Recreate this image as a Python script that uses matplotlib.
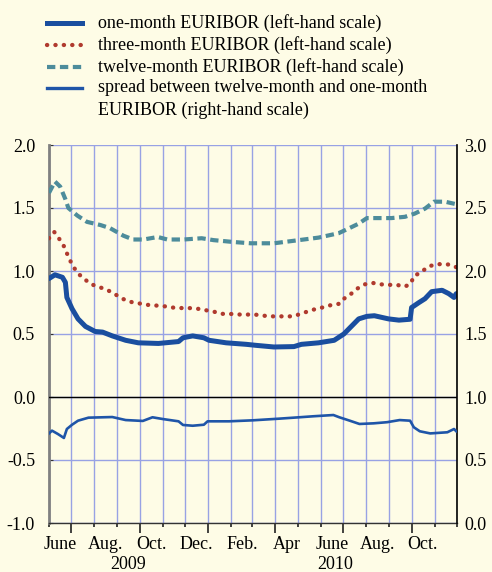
import pandas as pd
import matplotlib
matplotlib.use('Agg')
import matplotlib.pyplot as plt
import matplotlib.dates as mdates
from matplotlib.lines import Line2D

plt.rcParams['font.family'] = ['Liberation Serif', 'DejaVu Serif']
plt.rcParams['font.size'] = 13

# one-month EURIBOR (left-hand scale)
one_dates = ['2009-06-01', '2009-06-09', '2009-06-19', '2009-06-23', '2009-06-25', '2009-07-02',
             '2009-07-10', '2009-07-20', '2009-08-02', '2009-08-12', '2009-08-25', '2009-09-12',
             '2009-09-29', '2009-10-26', '2009-11-22', '2009-11-28', '2009-12-11', '2009-12-26',
             '2010-01-02', '2010-01-25', '2010-02-21', '2010-03-06', '2010-03-30', '2010-04-26',
             '2010-05-06', '2010-05-29', '2010-06-19', '2010-07-02', '2010-07-12', '2010-07-22',
             '2010-08-02', '2010-08-12', '2010-08-31', '2010-09-14', '2010-09-29', '2010-10-01',
             '2010-10-11', '2010-10-19', '2010-10-28', '2010-11-11', '2010-11-20', '2010-11-27',
             '2010-11-30']
one_vals = [0.94, 0.97, 0.95, 0.91, 0.79, 0.70,
            0.62, 0.56, 0.52, 0.515, 0.485, 0.45,
            0.43, 0.425, 0.44, 0.47, 0.485, 0.47,
            0.45, 0.43, 0.418, 0.41, 0.397, 0.40,
            0.418, 0.43, 0.45, 0.50, 0.56, 0.62,
            0.64, 0.645, 0.62, 0.61, 0.617, 0.71,
            0.75, 0.78, 0.836, 0.847, 0.82, 0.79,
            0.82]

# three-month EURIBOR (left-hand scale)
three_dates = ['2009-06-01', '2009-06-08', '2009-06-13', '2009-06-20', '2009-06-28', '2009-07-03',
               '2009-07-10', '2009-07-18', '2009-07-26', '2009-08-05', '2009-08-14', '2009-08-25',
               '2009-09-02', '2009-09-12', '2009-09-22', '2009-10-03', '2009-10-13', '2009-10-25',
               '2009-11-03', '2009-11-14', '2009-11-25', '2009-12-06', '2009-12-18', '2009-12-27',
               '2010-01-07', '2010-01-18', '2010-01-29', '2010-02-08', '2010-02-18', '2010-03-02',
               '2010-03-13', '2010-03-24', '2010-04-03', '2010-04-14', '2010-04-25', '2010-05-05',
               '2010-05-15', '2010-05-26', '2010-06-06', '2010-06-15', '2010-06-26', '2010-07-04',
               '2010-07-12', '2010-07-20', '2010-07-30', '2010-08-10', '2010-08-21', '2010-08-31',
               '2010-09-11', '2010-09-22', '2010-09-30', '2010-10-04', '2010-10-14', '2010-10-22',
               '2010-10-31', '2010-11-11', '2010-11-22', '2010-11-30']
three_vals = [1.26, 1.31, 1.27, 1.21, 1.10, 1.04,
              0.98, 0.94, 0.90, 0.876, 0.86, 0.83,
              0.80, 0.767, 0.75, 0.74, 0.73, 0.725,
              0.72, 0.71, 0.706, 0.706, 0.70, 0.69,
              0.68, 0.66, 0.66, 0.656, 0.653, 0.656,
              0.648, 0.64, 0.64, 0.64, 0.64, 0.66,
              0.68, 0.70, 0.714, 0.73, 0.74, 0.79,
              0.82, 0.86, 0.894, 0.905, 0.894, 0.89,
              0.89, 0.876, 0.90, 0.96, 0.99, 1.03,
              1.05, 1.056, 1.05, 1.03]

# twelve-month EURIBOR (left-hand scale)
twelve_dates = ['2009-06-01', '2009-06-09', '2009-06-16', '2009-06-23', '2009-06-27', '2009-07-09',
                '2009-07-22', '2009-08-09', '2009-08-22', '2009-09-09', '2009-09-22', '2009-10-06',
                '2009-10-25', '2009-11-07', '2009-11-29', '2009-12-23', '2010-01-08', '2010-02-04',
                '2010-02-27', '2010-03-30', '2010-04-26', '2010-05-29', '2010-06-25', '2010-07-08',
                '2010-07-22', '2010-08-02', '2010-08-12', '2010-09-04', '2010-09-22', '2010-10-05',
                '2010-10-19', '2010-10-31', '2010-11-15', '2010-11-30']
twelve_vals = [1.62, 1.71, 1.67, 1.57, 1.50, 1.44,
               1.39, 1.365, 1.34, 1.28, 1.25, 1.25,
               1.27, 1.25, 1.25, 1.26, 1.245, 1.23,
               1.22, 1.22, 1.24, 1.265, 1.30, 1.336,
               1.376, 1.42, 1.42, 1.42, 1.43, 1.455,
               1.495, 1.55, 1.55, 1.53]

# spread between twelve-month and one-month EURIBOR (right-hand scale)
spread_dates = ['2009-06-01', '2009-06-05', '2009-06-13', '2009-06-21', '2009-06-25', '2009-07-02',
                '2009-07-10', '2009-07-24', '2009-08-06', '2009-08-25', '2009-09-12', '2009-10-05',
                '2009-10-18', '2009-11-01', '2009-11-22', '2009-11-28', '2009-12-11', '2009-12-26',
                '2009-12-31', '2010-01-29', '2010-03-02', '2010-04-06', '2010-05-03', '2010-05-22',
                '2010-06-18', '2010-06-26', '2010-07-10', '2010-07-23', '2010-08-11', '2010-08-29',
                '2010-09-15', '2010-09-29', '2010-10-04', '2010-10-12', '2010-10-26', '2010-11-18',
                '2010-11-27', '2010-11-30']
spread_vals = [0.711, 0.733, 0.706, 0.675, 0.746, 0.78,
               0.812, 0.836, 0.838, 0.841, 0.817, 0.81,
               0.839, 0.825, 0.807, 0.778, 0.772, 0.78,
               0.807, 0.807, 0.815, 0.828, 0.839, 0.847,
               0.857, 0.839, 0.812, 0.786, 0.791, 0.80,
               0.817, 0.812, 0.76, 0.728, 0.711, 0.72,
               0.746, 0.728]

month_labels = ['June', 'Aug.', 'Oct.', 'Dec.', 'Feb.', 'Apr', 'June', 'Aug.', 'Oct.']
label_months = pd.date_range('2009-06-01', '2010-10-01', freq='2MS')
year_labels = ['2009', '2010']
year_pos = ['2009-09-15', '2010-06-20']

bg = '#fefce6'
grid_c = '#98a2e4'
dots = (0, (0.05, 1.9))
dashes = (0, (2.0, 1.1))

W, H = 492, 572
fig = plt.figure(figsize=(W / 100, H / 100), dpi=100, facecolor=bg)
ax = fig.add_axes([49 / W, 1 - 523 / H, 408 / W, 378 / H])
ax.set_facecolor(bg)
ax2 = ax.twinx()

ax.plot(pd.to_datetime(twelve_dates), twelve_vals, color='#4d8c9b', lw=3.0,
        linestyle=dashes, zorder=4)
ax.plot(pd.to_datetime(three_dates), three_vals, color='#b03a2e', lw=3.1,
        linestyle=dots, dash_capstyle='round', zorder=4)
ax.plot(pd.to_datetime(one_dates), one_vals, color='#1a4e9f', lw=3.6,
        solid_capstyle='round', zorder=5)
ax2.plot(pd.to_datetime(spread_dates), spread_vals, color='#1f55a8', lw=1.9, zorder=5)

start, end = pd.Timestamp('2009-06-01'), pd.Timestamp('2010-12-01')
ax.set_xlim(start, end)
ax.set_ylim(-1.0, 2.0)
ax2.set_ylim(0.0, 3.0)

ax.set_yticks([-1.0, -0.5, 0.0, 0.5, 1.0, 1.5, 2.0])
ax.set_yticklabels(['-1.0', '-0.5', '0.0', '0.5', '1.0', '1.5', '2.0'])
ax2.set_yticks([0.0, 0.5, 1.0, 1.5, 2.0, 2.5, 3.0])
ax2.set_yticklabels(['0.0', '0.5', '1.0', '1.5', '2.0', '2.5', '3.0'])
ax.tick_params(axis='y', length=3, direction='in', pad=10, labelsize=13, color='#333333')
ax2.tick_params(axis='y', length=0, pad=5, labelsize=13)

ax.xaxis.set_major_locator(mdates.MonthLocator(bymonth=[1, 4, 7, 10]))
ax.xaxis.set_minor_locator(mdates.MonthLocator())
ax.xaxis.set_major_formatter(plt.NullFormatter())
ax.tick_params(axis='x', which='major', length=7, width=1.2, direction='out', color='#222222')
ax.tick_params(axis='x', which='minor', length=3, width=1.2, direction='out', color='#222222')

ax.grid(True, axis='x', which='both', color=grid_c, lw=1.0)
ax.grid(True, axis='y', which='major', color=grid_c, lw=1.0)
ax.set_axisbelow(True)
ax.axhline(0.0, color='black', lw=1.0, zorder=3)

for a in (ax, ax2):
    a.spines['top'].set_visible(False)
ax.spines['left'].set_color('#808080')
ax.spines['left'].set_linewidth(2.0)
ax.spines['right'].set_visible(False)
ax2.spines['left'].set_visible(False)
ax2.spines['bottom'].set_visible(False)
ax2.spines['right'].set_color('black')
ax2.spines['right'].set_linewidth(1.2)
ax.spines['bottom'].set_color('#333333')
ax.spines['bottom'].set_linewidth(1.0)

xt = ax.get_xaxis_transform()
for d, lab in zip(label_months, month_labels):
    ax.text(d + pd.Timedelta(days=15), -0.057, lab, transform=xt, ha='center', va='center', fontsize=13)
for d, lab in zip(year_pos, year_labels):
    ax.text(pd.Timestamp(d), -0.111, lab, transform=xt, ha='center', va='center', fontsize=13)

# legend drawn by hand above the plot
legend_items = [
    ('one-month EURIBOR (left-hand scale)', dict(color='#1a4e9f', lw=3.6)),
    ('three-month EURIBOR (left-hand scale)', dict(color='#b03a2e', lw=3.1, linestyle=dots,
                                                   dash_capstyle='round')),
    ('twelve-month EURIBOR (left-hand scale)', dict(color='#4d8c9b', lw=3.0, linestyle=dashes)),
    ('spread between twelve-month and one-month', dict(color='#1f55a8', lw=2.4)),
]
rows = [23, 45, 67, 88]
for (lab, style), yp in zip(legend_items, rows):
    fig.add_artist(Line2D([47 / W, 82 / W], [1 - yp / H, 1 - yp / H], transform=fig.transFigure, **style))
    fig.text(98 / W, 1 - yp / H, lab, ha='left', va='center', fontsize=13)
fig.text(98 / W, 1 - 110 / H, 'EURIBOR (right-hand scale)', ha='left', va='center', fontsize=13)

fig.savefig('out.png', dpi=100, facecolor=bg)
